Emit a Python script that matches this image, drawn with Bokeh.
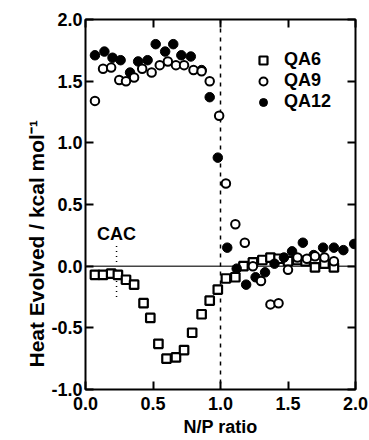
from bokeh.plotting import figure
from bokeh.models import (Range1d, LinearAxis, FixedTicker, NumeralTickFormatter,
                          Span, Legend, LegendItem, Label, Title)
from bokeh.embed import file_html
from bokeh.resources import INLINE

# ---- data ----
qa6_x = [0.07, 0.13, 0.19, 0.24, 0.30, 0.36, 0.43, 0.48, 0.54, 0.60, 0.67, 0.73, 0.79, 0.86, 0.92,
         0.98, 1.04, 1.11, 1.17, 1.24, 1.31, 1.37, 1.43, 1.50, 1.57, 1.63, 1.70, 1.77, 1.84]
qa6_y = [-0.07, -0.07, -0.06, -0.07, -0.11, -0.15, -0.30, -0.42, -0.63, -0.75, -0.74, -0.68, -0.54,
         -0.39, -0.28, -0.19, -0.10, -0.09, 0.00, 0.03, 0.05, 0.07, 0.06, 0.04, 0.05, 0.04, -0.01,
         0.02, -0.01]

qa9_x = [0.07, 0.13, 0.19, 0.25, 0.30, 0.36, 0.42, 0.49, 0.55, 0.61, 0.67, 0.73, 0.80, 0.86, 0.92,
         0.99, 1.04, 1.11, 1.18, 1.24, 1.30, 1.37, 1.43, 1.50, 1.57, 1.64, 1.70, 1.77, 1.84]
qa9_y = [1.34, 1.60, 1.61, 1.51, 1.50, 1.53, 1.60, 1.57, 1.63, 1.66, 1.63, 1.63, 1.59, 1.58, 1.50,
         1.22, 0.67, 0.34, 0.19, 0.00, -0.12, -0.31, -0.30, -0.03, 0.07, 0.06, 0.08, 0.07, 0.04]

qa12_x = [0.07, 0.14, 0.20, 0.26, 0.33, 0.39, 0.46, 0.52, 0.59, 0.65, 0.71, 0.78, 0.86, 0.92, 0.98,
          1.05, 1.12, 1.19, 1.26, 1.33, 1.40, 1.47, 1.53, 1.61, 1.69, 1.76, 1.84, 1.91, 1.99]
qa12_y = [1.71, 1.74, 1.69, 1.67, 1.57, 1.66, 1.67, 1.80, 1.74, 1.80, 1.71, 1.70, 1.59, 1.37, 0.88,
          0.15, -0.02, -0.15, -0.09, -0.05, 0.02, 0.07, 0.12, 0.19, 0.09, 0.15, 0.15, 0.13, 0.18]

x_ticks = [0.0, 0.5, 1.0, 1.5, 2.0]
y_ticks = [-1.0, -0.5, 0.0, 0.5, 1.0, 1.5, 2.0]

cac_x = 0.23
cac_y0, cac_y1 = -0.25, 0.18
cac_label_y = 0.26
np_line_x = 1.0

y_title = "Heat Evolved / kcal mol\u207b\u00b9"

FONT = "Liberation Sans"

p = figure(width=369, height=440, x_range=Range1d(0, 2), y_range=Range1d(-1, 2),
           output_backend="svg", toolbar_location=None,
           min_border_left=85, min_border_right=14, min_border_top=19, min_border_bottom=51)

p.xgrid.visible = False
p.ygrid.visible = False
p.outline_line_color = "black"
p.outline_line_width = 2
p.background_fill_color = "white"
p.border_fill_color = "white"

# reference lines
p.add_layout(Span(location=0, dimension="width", line_color="#444444", line_width=1.5, level="underlay"))
p.add_layout(Span(location=np_line_x, dimension="height", line_color="black", line_width=1.5,
                  line_dash="4 5", level="underlay"))
p.segment(x0=[cac_x], y0=[cac_y0], x1=[cac_x], y1=[cac_y1], line_color="black",
          line_width=1.5, line_dash="1 4", level="underlay")
p.add_layout(Label(x=cac_x, y=cac_label_y, text="CAC", text_align="center", text_baseline="alphabetic",
                   text_font=FONT, text_font_size="18px", text_font_style="bold", text_color="black"))

r6 = p.scatter(qa6_x, qa6_y, marker="square", size=8.5, fill_color="white", line_color="black", line_width=2.2)
r12 = p.scatter(qa12_x, qa12_y, marker="circle", size=9.5, fill_color="black", line_color="black", line_width=1)
r9 = p.scatter(qa9_x, qa9_y, marker="circle", size=8.5, fill_color="white", line_color="black", line_width=2)

legend = Legend(items=[LegendItem(label="QA6", renderers=[r6]),
                       LegendItem(label="QA9", renderers=[r9]),
                       LegendItem(label="QA12", renderers=[r12])],
                location=(168, 277), padding=0, spacing=-1, glyph_width=20, glyph_height=20,
                label_height=20, label_standoff=11, border_line_color=None,
                background_fill_alpha=0, label_text_font=FONT, label_text_font_size="18px",
                label_text_font_style="bold", label_text_color="black")
p.add_layout(legend)

def style_axis(ax, ticks, labels=True):
    ax.ticker = FixedTicker(ticks=ticks)
    ax.formatter = NumeralTickFormatter(format="0.0")
    ax.major_tick_in = 8
    ax.major_tick_out = 0
    ax.minor_tick_line_color = None
    ax.major_tick_line_color = "black"
    ax.major_tick_line_width = 2
    ax.axis_line_color = None
    if labels:
        ax.major_label_text_font = FONT
        ax.major_label_text_font_size = "18px"
        ax.major_label_text_font_style = "bold"
        ax.major_label_text_color = "black"
        ax.axis_label_text_font = FONT
        ax.axis_label_text_font_style = "bold"
        ax.axis_label_text_color = "black"
    else:
        ax.major_label_text_color = None

style_axis(p.xaxis[0], x_ticks)
style_axis(p.yaxis[0], y_ticks)
p.xaxis[0].axis_label = "N/P ratio"
p.xaxis[0].axis_label_text_font_size = "18px"
p.xaxis[0].major_label_standoff = 7
p.xaxis[0].axis_label_standoff = 4
p.yaxis[0].major_label_standoff = 3

# y-axis title, anchored near the bottom of the frame as in the reference
p.add_layout(Title(text=y_title, align="left", offset=22, standoff=2, text_font=FONT,
                   text_font_size="21px", text_font_style="bold", text_color="black"), "left")

top_ax = LinearAxis()
right_ax = LinearAxis()
style_axis(top_ax, x_ticks, labels=False)
style_axis(right_ax, y_ticks, labels=False)
p.add_layout(top_ax, "above")
p.add_layout(right_ax, "right")

open("out.html", "w").write(file_html(p, INLINE))
